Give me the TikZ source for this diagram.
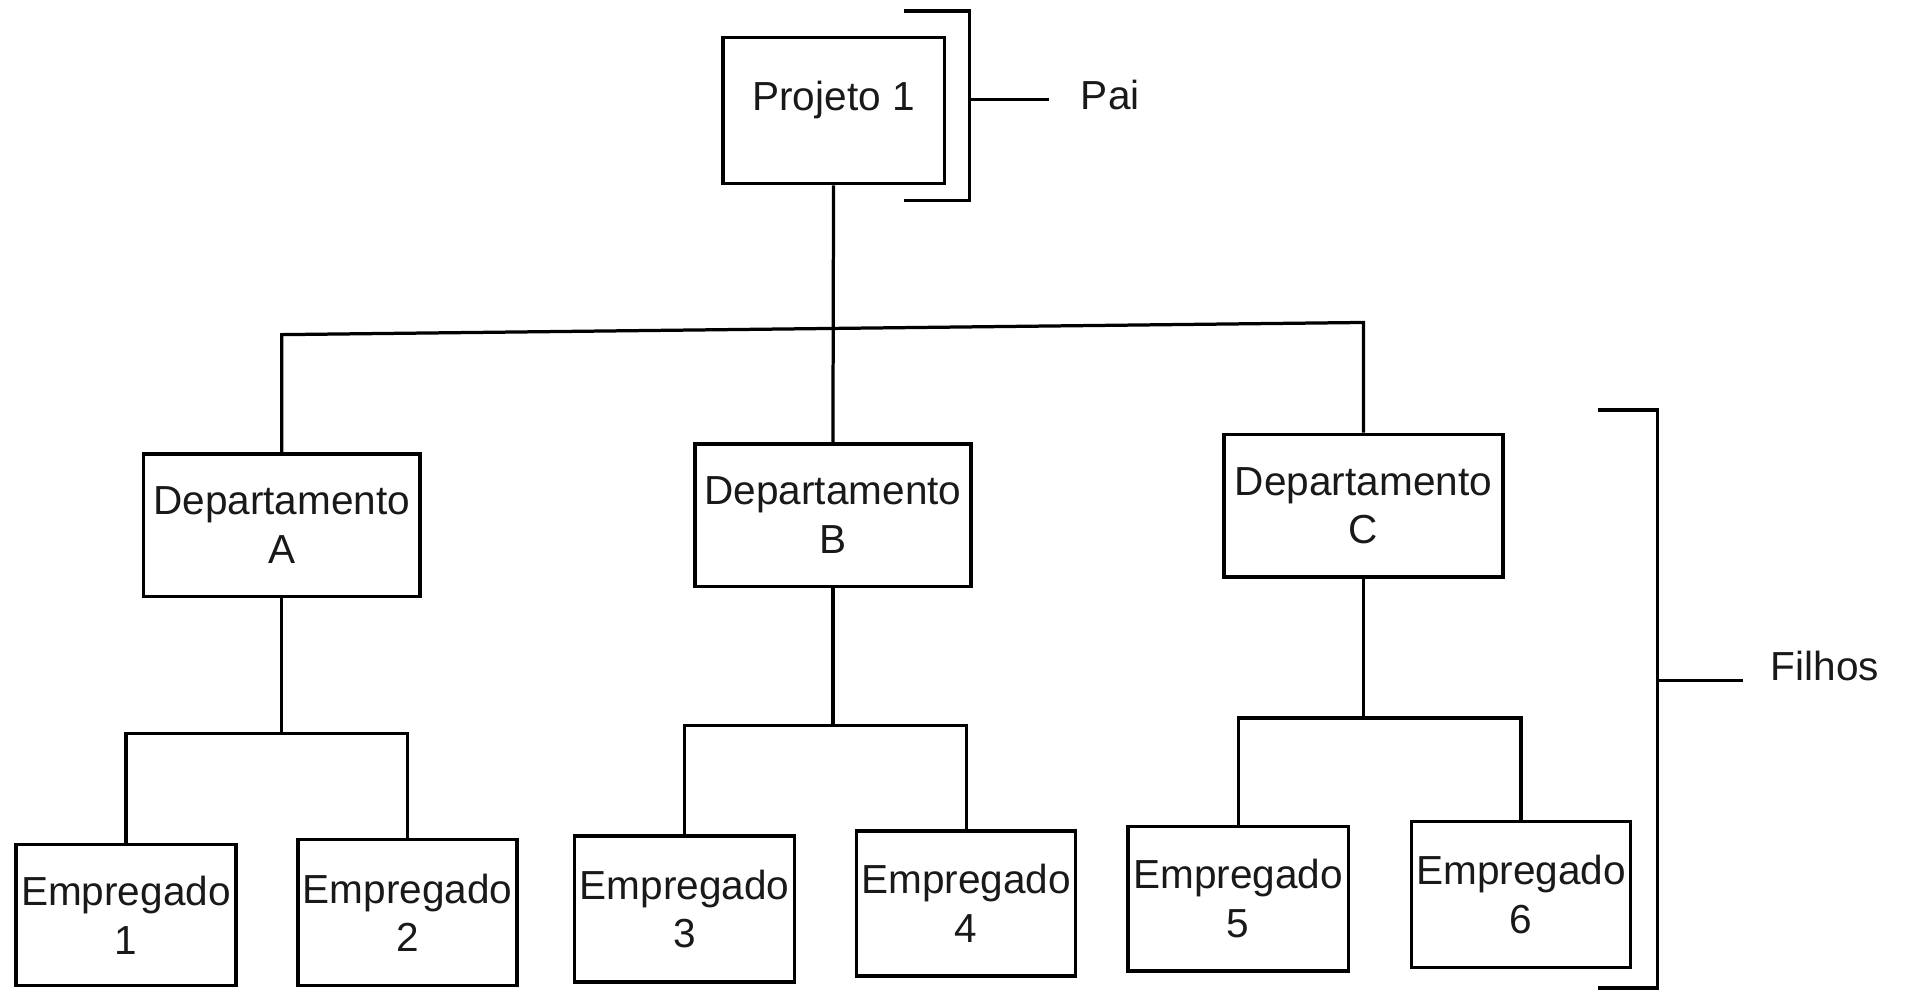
\documentclass[tikz,border=0pt]{standalone}
\usepackage{fontspec}
\setmainfont{Liberation Sans}
\begin{document}
\begin{tikzpicture}[x=0.6pt,y=-0.6pt,
  ln/.style={line width=1.6pt},
  box/.style 2 args={draw, line width=1.7pt, inner sep=0pt, align=center,
    minimum width=#1*0.6pt, minimum height=#2*0.6pt,
    font=\fontsize{20}{24}\selectfont, text=black!90},
  lbl/.style={anchor=west, inner sep=0pt, font=\fontsize{20}{24}\selectfont, text=black!90}]
\useasboundingbox (0,0) rectangle (1568,815);

% root
\node[box={182}{120}, text height=12pt, text depth=12pt] (P) at (685,91) {Projeto 1};

% departments
\node[box={227}{117}] (A) at (231.5,431.5) {Departamento\\A};
\node[box={227}{117}] (B) at (684.5,423.5) {Departamento\\B};
\node[box={229}{117}] (C) at (1120.5,415.5) {Departamento\\C};

% employees
\node[box={181}{116}] (E1) at (103.5,752) {Empregado\\1};
\node[box={180}{120}] (E2) at (335,750) {Empregado\\2};
\node[box={181}{120}] (E3) at (562.5,747) {Empregado\\3};
\node[box={180}{119}] (E4) at (794,742.5) {Empregado\\4};
\node[box={181}{119}] (E5) at (1017.5,738.5) {Empregado\\5};
\node[box={180}{120}] (E6) at (1250,735) {Empregado\\6};

% first level connectors
\coordinate (tl) at (0,275);
\coordinate (tr) at (0,265);
\draw[ln] (P.south) -- (B.north);
\draw[ln] (A.north) -- (A.north |- tl) -- (C.north |- tr) -- (C.north);

% second level connectors
\coordinate (ba) at (0,603);
\coordinate (bb) at (0,596);
\coordinate (bc) at (0,590);
\draw[ln] (A.south) -- (A.south |- ba);
\draw[ln] (E1.north) -- (E1.north |- ba) -- (E2.north |- ba) -- (E2.north);
\draw[ln] (B.south) -- (B.south |- bb);
\draw[ln] (E3.north) -- (E3.north |- bb) -- (E4.north |- bb) -- (E4.north);
\draw[ln] (C.south) -- (C.south |- bc);
\draw[ln] (E5.north) -- (E5.north |- bc) -- (E6.north |- bc) -- (E6.north);

% bracket: parent
\draw[ln] (743,9) -- (797,9) -- (797,165) -- (743,165);
\coordinate (pb) at (797,82);
\coordinate (pe) at (862,82);
\draw[ln] (pb) -- (pe);
\node[lbl] (pai) at (888,78) {Pai};

% bracket: children
\draw[ln] (1313,337) -- (1362,337) -- (1362,812) -- (1313,812);
\coordinate (fb) at (1362,559);
\coordinate (fe) at (1432,559);
\draw[ln] (fb) -- (fe);
\node[lbl] (filhos) at (1455,547) {Filhos};
\end{tikzpicture}
\end{document}
